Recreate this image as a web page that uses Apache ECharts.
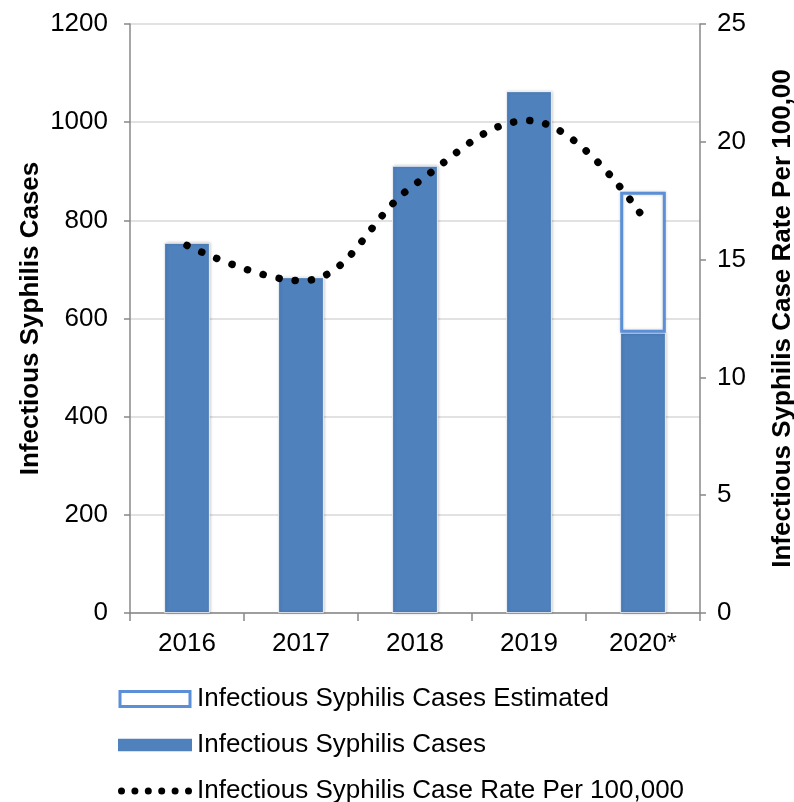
<!DOCTYPE html>
<html>
<head>
<meta charset="utf-8">
<script src="https://cdn.jsdelivr.net/npm/echarts@6/dist/echarts.min.js"></script>
<style>
html,body{margin:0;padding:0;background:#fff;}
#chart{width:794px;height:802px;}
</style>
</head>
<body>
<div id="chart"></div>
<script>
var categories = ['2016', '2017', '2018', '2019', '2020*'];
var cases = [754, 684, 911, 1063, 571];
var casesEstimatedExtra = ['-', '-', '-', '-', 287];
var rate = [15.6, 14.1, 18.2, 20.9, 16.8];
var leftTicks = {min: 0, max: 1200, interval: 200};
var rightTicks = {min: 0, max: 25, interval: 5};

var FONT = '"Liberation Sans", Arial, sans-serif';
var dotsIcon = 'path://M0,3.5a3.5,3.5 0 1,0 7,0a3.5,3.5 0 1,0 -7,0' +
  'M13.4,3.5a3.5,3.5 0 1,0 7,0a3.5,3.5 0 1,0 -7,0' +
  'M26.8,3.5a3.5,3.5 0 1,0 7,0a3.5,3.5 0 1,0 -7,0' +
  'M40.2,3.5a3.5,3.5 0 1,0 7,0a3.5,3.5 0 1,0 -7,0' +
  'M53.6,3.5a3.5,3.5 0 1,0 7,0a3.5,3.5 0 1,0 -7,0' +
  'M67,3.5a3.5,3.5 0 1,0 7,0a3.5,3.5 0 1,0 -7,0';

var chart = echarts.init(document.getElementById('chart'), null, {renderer: 'canvas'});
var axisLineStyle = {color: '#888888', width: 1.5};
var plainNum = function (v) { return String(v); };
chart.setOption({
  animation: false,
  textStyle: {fontFamily: FONT},
  grid: {left: 130, right: 94, top: 24, bottom: 189, containLabel: false, outerBoundsMode: 'none'},
  legend: {
    orient: 'vertical',
    left: 113,
    top: 681,
    height: 130,
    itemGap: 20,
    itemWidth: 74,
    itemHeight: 15,
    textStyle: {fontSize: 26, color: '#000', fontFamily: FONT},
    data: [
      {name: 'Infectious Syphilis Cases Estimated', icon: 'path://M0,0H70V15H0Z',
        itemStyle: {color: '#ffffff', borderColor: '#5B8FD8', borderWidth: 3}},
      {name: 'Infectious Syphilis Cases', icon: 'path://M0,0H66V11H0Z',
        itemStyle: {color: '#4F81BD', borderWidth: 0}},
      {name: 'Infectious Syphilis Case Rate Per 100,000', icon: dotsIcon,
        itemStyle: {color: '#000', borderWidth: 0}}
    ]
  },
  xAxis: {
    type: 'category',
    data: categories,
    boundaryGap: true,
    axisLine: {lineStyle: axisLineStyle},
    axisTick: {show: true, length: 8, alignWithLabel: false, lineStyle: axisLineStyle},
    axisLabel: {fontSize: 26, color: '#000', margin: 18, fontFamily: FONT}
  },
  yAxis: [
    {
      type: 'value', position: 'left',
      min: leftTicks.min, max: leftTicks.max, interval: leftTicks.interval,
      name: 'Infectious Syphilis Cases',
      nameLocation: 'middle', nameGap: 86, nameMoveOverlap: false,
      nameTextStyle: {fontSize: 26, fontWeight: 'bold', color: '#000', fontFamily: FONT},
      axisLine: {show: true, lineStyle: axisLineStyle},
      axisTick: {show: true, length: 6, lineStyle: axisLineStyle},
      axisLabel: {fontSize: 26, color: '#000', margin: 22, fontFamily: FONT, formatter: plainNum},
      splitLine: {show: true, lineStyle: {color: '#D9D9D9', width: 1.5}}
    },
    {
      type: 'value', position: 'right',
      min: rightTicks.min, max: rightTicks.max, interval: rightTicks.interval,
      name: 'Infectious Syphilis Case Rate Per 100,00',
      nameLocation: 'middle', nameGap: 70, nameMoveOverlap: false,
      nameTextStyle: {fontSize: 26, fontWeight: 'bold', color: '#000', fontFamily: FONT},
      axisLine: {show: true, lineStyle: axisLineStyle},
      axisTick: {show: true, length: 6, lineStyle: axisLineStyle},
      axisLabel: {fontSize: 26, color: '#000', margin: 17, fontFamily: FONT, formatter: plainNum},
      splitLine: {show: false}
    }
  ],
  series: [
    {
      name: 'Infectious Syphilis Cases',
      type: 'bar', stack: 'cases', yAxisIndex: 0,
      barWidth: '40%',
      data: cases,
      itemStyle: {color: '#4F81BD', borderColor: '#ffffff', borderWidth: 0.8,
        shadowColor: 'rgba(0,0,0,0.25)', shadowBlur: 3, shadowOffsetX: 1}
    },
    {
      name: 'Infectious Syphilis Cases Estimated',
      type: 'bar', stack: 'cases', yAxisIndex: 0,
      barWidth: '40%',
      data: casesEstimatedExtra,
      itemStyle: {color: '#ffffff', borderColor: '#5B8FD8', borderWidth: 3,
        shadowColor: 'rgba(0,0,0,0.2)', shadowBlur: 3}
    },
    {
      name: 'Infectious Syphilis Case Rate Per 100,000',
      type: 'line', yAxisIndex: 1,
      data: rate,
      smooth: 0.4,
      showSymbol: false,
      symbol: 'none',
      itemStyle: {color: '#000'},
      lineStyle: {color: '#000', width: 7.5, type: [0.1, 16.2], cap: 'round'},
      z: 5
    }
  ]
});
</script>
</body>
</html>
